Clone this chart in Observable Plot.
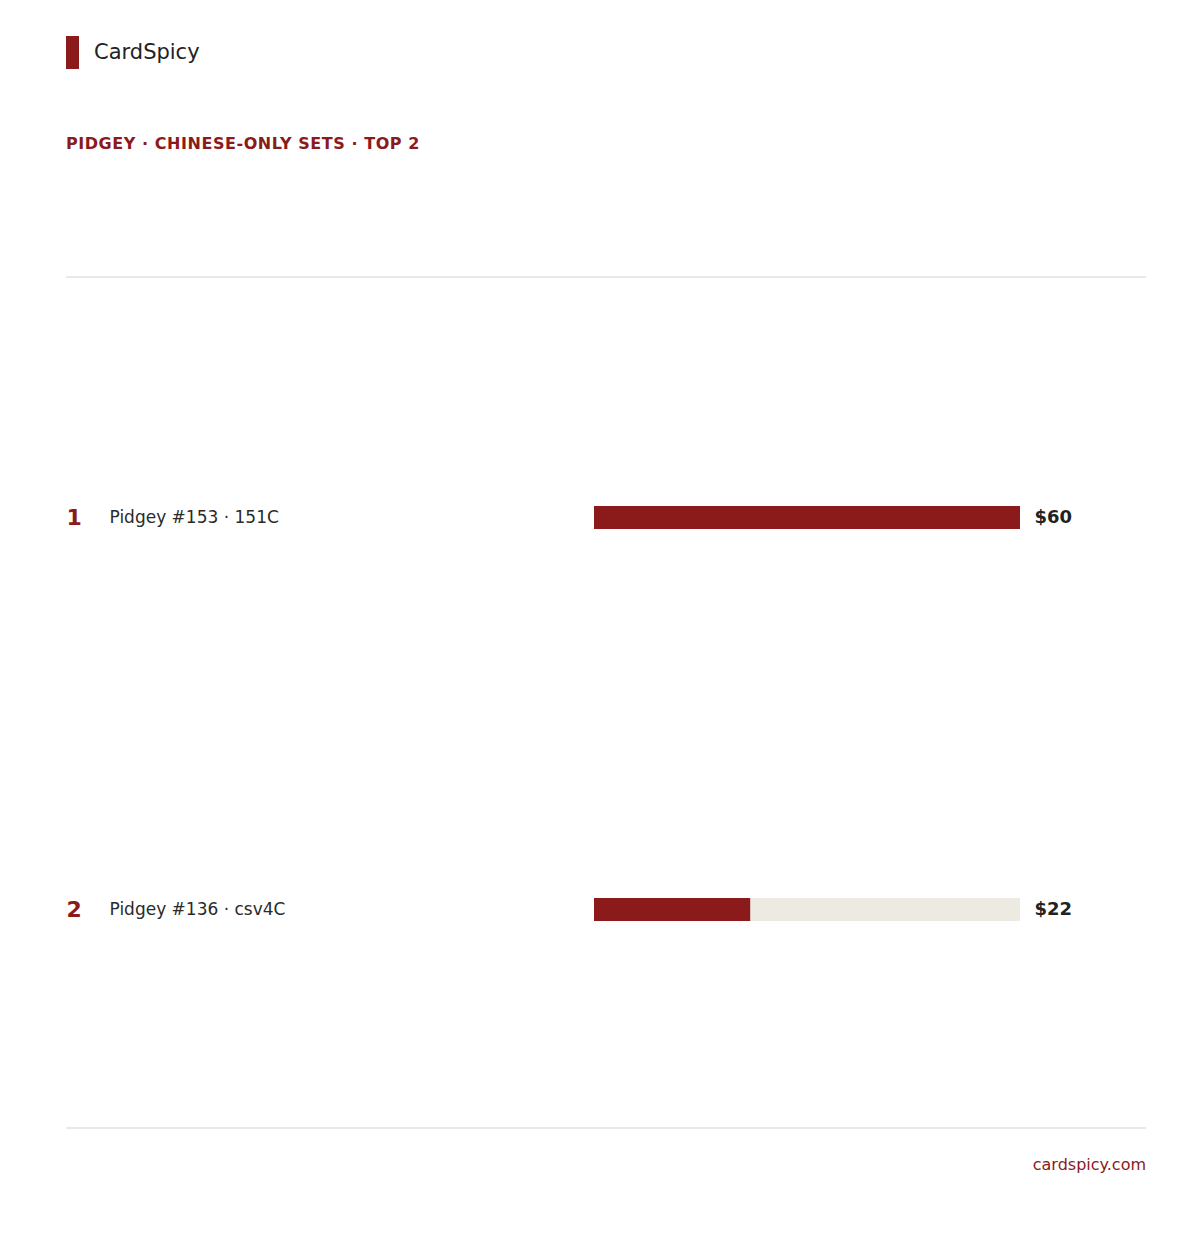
<!DOCTYPE html>
<html>
<head>
<meta charset="utf-8">
<script src="https://cdn.jsdelivr.net/npm/d3@7"></script>
<script src="https://cdn.jsdelivr.net/npm/@observablehq/plot@0.6"></script>
<style>
  body { margin: 0; background: #fff; font-family: "DejaVu Sans", sans-serif; color: #222; }
  #wrap { width: 1080px; margin-left: 66px; }
  .brand { margin-top: 36px; height: 33px; display: flex; align-items: center; }
  .brand .mark { width: 13px; height: 33px; background: #8B1A1A; }
  .brand .name { margin-left: 15px; font-size: 21px; line-height: 24px; color: #222; margin-top: -2px; }
  .sub { margin-top: 65px; font-size: 16px; line-height: 20px; font-weight: bold; color: #8B1A1A; letter-spacing: 0.55px; }
  .rule { height: 0; border-top: 2px solid #ECE9E4; }
  .rule.top { margin-top: 122px; }
  #chart svg { display: block; }
  .foot { margin-top: 26px; text-align: right; font-size: 16px; line-height: 20px; color: #8B1A1A; }
</style>
</head>
<body>
<div id="wrap">
  <div class="brand"><div class="mark"></div><div class="name">CardSpicy</div></div>
  <div class="sub" id="sub"></div>
  <div class="rule top"></div>
  <div id="chart"></div>
  <div class="rule"></div>
  <div class="foot">cardspicy.com</div>
</div>
<script>
const subtitle = "PIDGEY · CHINESE-ONLY SETS · TOP 2";
const ranks = [1, 2];
const cardNames = ["Pidgey #153 · 151C", "Pidgey #136 · csv4C"];
const prices = [60, 22];

document.getElementById("sub").textContent = subtitle;

const data = ranks.map((r, i) => ({ rank: r, name: cardNames[i], price: prices[i] }));
const maxPrice = d3.max(prices);

const chart = Plot.plot({
  width: 1080,
  height: 849,
  marginLeft: 528,
  marginRight: 126,
  marginTop: 43,
  marginBottom: 22,
  style: { fontFamily: "'DejaVu Sans', sans-serif", background: "transparent" },
  x: { domain: [0, maxPrice], axis: null },
  y: { domain: ranks, axis: null, padding: 0 },
  marks: [
    Plot.barX(data, { y: "rank", x1: 0, x2: maxPrice, fill: "#EDEAE2", insetTop: 185, insetBottom: 184 }),
    Plot.barX(data, { y: "rank", x1: 0, x2: "price", fill: "#8B1A1A", insetTop: 185, insetBottom: 184 }),
    Plot.text(data, { y: "rank", text: d => String(d.rank), frameAnchor: "left", dx: -528, textAnchor: "start", fill: "#8B1A1A", fontSize: 22, fontWeight: "bold" }),
    Plot.text(data, { y: "rank", text: "name", frameAnchor: "left", dx: -485, textAnchor: "start", fill: "#2a2a2a", fontSize: 17 }),
    Plot.text(data, { y: "rank", text: d => "$" + d.price, frameAnchor: "right", dx: 14, textAnchor: "start", fill: "#222", fontSize: 18, fontWeight: "bold" })
  ]
});
document.getElementById("chart").appendChild(chart);
</script>
</body>
</html>
